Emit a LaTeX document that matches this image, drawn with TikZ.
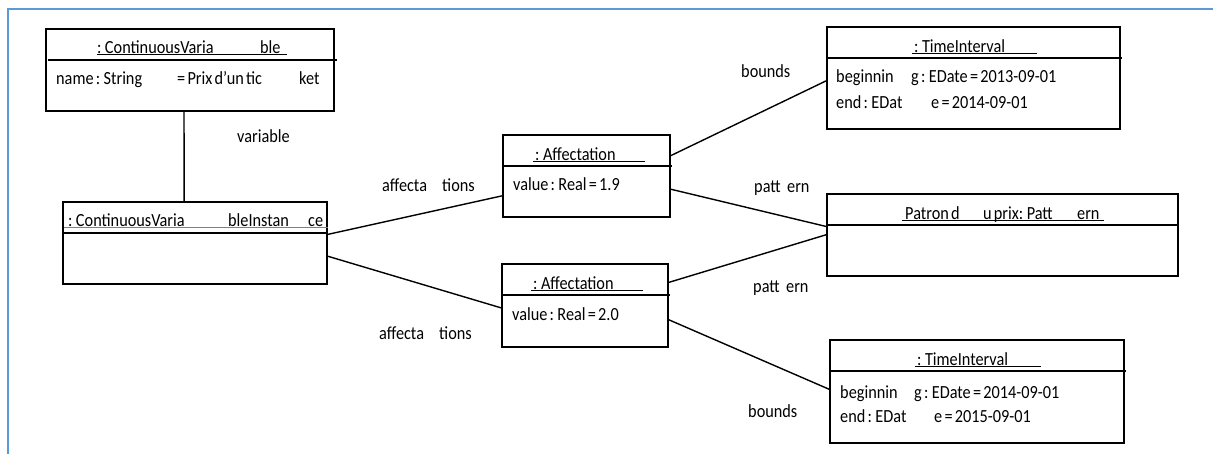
\documentclass[tikz,border=0pt]{standalone}
\usepackage{fontspec}
\setmainfont{Carlito}[FakeStretch=0.88,WordSpace=0.6]
\usetikzlibrary{calc}
\definecolor{frameblue}{RGB}{91,155,213}
\newcommand{\seg}[2]{\makebox[#1pt][l]{#2}}
\newcommand{\ulr}[2]{\makebox[0pt][l]{\hspace*{-#1pt}\rule[-1.2pt]{#2pt}{1pt}}}
\newcommand{\ulg}[2]{\makebox[0pt][l]{\hspace*{-#1pt}\textcolor{gray}{\rule[-0.8pt]{#2pt}{1.1pt}}}}
\begin{document}
\begin{tikzpicture}[x=1pt,y=-1pt,
  objbox/.style={draw, line width=1.6pt, anchor=north west, inner sep=0pt, rectangle},
  txt/.style={anchor=base west, inner sep=0pt, font=\fontsize{18.5pt}{20pt}\selectfont},
  link/.style={line width=1.4pt},
  divider/.style={line width=1.6pt}]
\useasboundingbox (0,0) rectangle (1213,454);
\draw[frameblue, line width=2pt] (8,454) -- (8,9) -- (1213,9);

% boxes
\node[objbox, minimum width=288pt, minimum height=82pt] (cv) at (45,28) {};
\node[objbox, minimum width=264pt, minimum height=82pt] (cvi) at (62,201) {};
\node[objbox, minimum width=167pt, minimum height=82pt] (a1) at (502,134) {};
\node[objbox, minimum width=166pt, minimum height=83pt] (a2) at (501,263) {};
\node[objbox, minimum width=293pt, minimum height=102pt] (t1) at (826,26) {};
\node[objbox, minimum width=351pt, minimum height=82pt] (pat) at (826,193) {};
\node[objbox, minimum width=294pt, minimum height=103pt] (t2) at (829,339) {};

% dividers
\draw[divider] (48,60) -- (337,60);
\draw[divider] (64,233) -- (326,233);
\draw[divider] (502,166) -- (672,166);
\draw[divider] (501,295) -- (670,295);
\draw[divider] (826,58) -- (1122,58);
\draw[divider] (826,225) -- (1179,225);
\draw[divider] (829,371) -- (1126,371);

% texts in boxes
\node[txt] (cvt) at (97,54) {\ulr{0}{190}\seg{163}{: ContinuousVaria}ble};
\node[txt] (cva) at (56,85) {\seg{121}{name : String}\seg{122}{= Prix d'un tic}ket};
\node[txt] (cvit) at (68,227) {\ulg{4}{264}\seg{160}{: ContinuousVaria}\seg{80}{bleInstan}ce};
\node[txt] (a1t) at (535,161) {\ulr{2}{112}: Affectation};
\node[txt] (a1v) at (513,191) {value : Real = 1.9};
\node[txt] (a2t) at (533,290) {\ulr{2}{112}: Affectation};
\node[txt] (a2v) at (512,321) {value : Real = 2.0};
\node[txt] (t1t) at (914,53) {\ulr{2}{125}: TimeInterval};
\node[txt] (t1a) at (836,83) {\seg{75}{beginnin}g : EDate = 2013-09-01};
\node[txt] (t1b) at (836,109) {\seg{95}{end : EDat}e = 2014-09-01};
\node[txt] (patt) at (905,220) {\ulr{3}{202}\seg{78}{Patron d}\seg{94}{u prix: Patt}ern};
\node[txt] (t2t) at (917,366) {\ulr{2}{126}: TimeInterval};
\node[txt] (t2a) at (840,398) {\seg{74}{beginnin}g : EDate = 2014-09-01};
\node[txt] (t2b) at (840,422) {\seg{94}{end : EDat}e = 2015-09-01};

% link labels
\node[txt] (lvar) at (237,143) {variable};
\node[txt] (laff1) at (382,192) {\seg{60}{affecta}tions};
\node[txt] (laff2) at (379,339) {\seg{60}{affecta}tions};
\node[txt] (lb1) at (741,78) {bounds};
\node[txt] (lp1) at (754,193) {\seg{33}{patt}ern};
\node[txt] (lp2) at (753,293) {\seg{33}{patt}ern};
\node[txt] (lb2) at (748,417) {bounds};

% connectors
\draw[link] ($(cv.south west)!0.48!(cv.south east)$) -- ($(cvi.north west)!0.46!(cvi.north east)$);
\draw[link] ($(cvi.north east)!0.40!(cvi.south east)$) -- ($(a1.north west)!0.74!(a1.south west)$);
\draw[link] ($(cvi.north east)!0.66!(cvi.south east)$) -- ($(a2.north west)!0.53!(a2.south west)$);
\draw[link] ($(a1.north east)!0.26!(a1.south east)$) -- ($(t1.north west)!0.53!(t1.south west)$);
\draw[link] ($(a1.north east)!0.66!(a1.south east)$) -- ($(pat.north west)!0.40!(pat.south west)$);
\draw[link] ($(a2.north east)!0.23!(a2.south east)$) -- ($(pat.north west)!0.50!(pat.south west)$);
\draw[link] ($(a2.north east)!0.67!(a2.south east)$) -- ($(t2.north west)!0.48!(t2.south west)$);
\end{tikzpicture}
\end{document}
